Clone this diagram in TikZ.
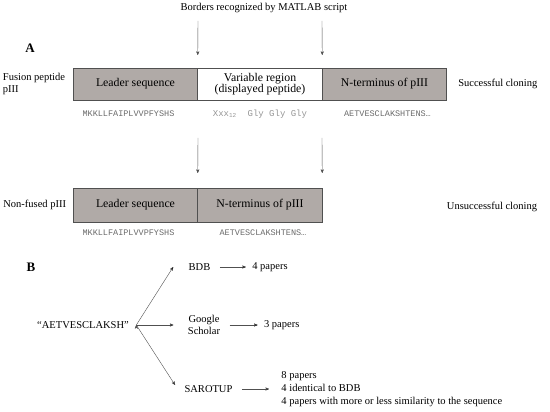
\documentclass[tikz,border=0pt]{standalone}
\usepackage{fontspec}
\setmainfont{Liberation Serif}
\setmonofont{Liberation Mono}
\usetikzlibrary{arrows,positioning}
\definecolor{partgray}{RGB}{176,170,167}
\definecolor{linegray}{RGB}{80,80,80}
\definecolor{seqgray}{RGB}{105,105,105}
\definecolor{xxxgray}{RGB}{150,150,150}

\begin{document}
\begin{tikzpicture}[x=1pt,y=-1pt,>=stealth',node distance=6pt,
                    font=\fontsize{10.5}{12.5}\selectfont,
                    part node/.style={draw=linegray,fill=partgray,line width=0.6pt,outer sep=0pt,
                      minimum width=124.5pt,minimum height=32pt,inner sep=0pt,align=center,
                      font=\fontsize{11.8}{11.5}\selectfont},
                    free node/.style={part node,fill=white},
                    seq node/.style={font=\ttfamily\fontsize{8.5}{10}\selectfont,text=seqgray},
                    side node/.style={align=left,inner sep=0pt},
                    panel node/.style={font=\fontsize{13}{15}\selectfont\bfseries},
                    link/.style={->,draw=linegray,thin},
                    short link/.style={shorten <=6pt,shorten >=3pt}]
\useasboundingbox (0,0) rectangle (550,412);

% A
\node[panel node] (A) at (30,48) {A};
\node (title) at (264,8) {Borders recognized by MATLAB script};

\node[part node] (lead1) at (135.5,84) {Leader sequence};
\node[free node] (var1) [right=0pt of lead1] {Variable region\\(displayed peptide)};
\node[part node] (term1) [right=0pt of var1] {N-terminus of pIII};
\node[side node] (fused) [left=8pt of lead1] {Fusion peptide\\pIII};
\node (ok) [right=8pt of term1] {Successful cloning};

\node[seq node] (seq1) [below=7pt of lead1,xshift=-7pt] {MKKLLFAIPLVVPFYSHS};
\node[seq node,text=xxxgray,font=\ttfamily\fontsize{9}{10}\selectfont] (seq2) [below=6pt of var1]
  {Xxx\textsubscript{12}\ \ Gly Gly Gly};
\node[seq node] (seq3) [below=7pt of term1,xshift=3pt] {AETVESCLAKSHTENS…};

\node[part node,minimum height=34pt] (lead2) at (135.5,205) {Leader sequence};
\node[part node,minimum height=34pt] (term2) [right=0pt of lead2] {N-terminus of pIII};
\node[side node] (nonfused) [left=7pt of lead2] {Non-fused pIII};
\node (notok) at (492,207) {Unsuccessful cloning};

\node[seq node] (seq4) [below=4pt of lead2,xshift=-7pt] {MKKLLFAIPLVVPFYSHS};
\node[seq node] (seq5) [below=4pt of term2,xshift=3pt] {AETVESCLAKSHTENS…};

\coordinate (cut1) at (198,21);
\coordinate (cut2) at (322,21);
\coordinate (cut3) at (198,138);
\coordinate (cut4) at (322,138);
\coordinate (end1) at ([yshift=13pt]lead1.north east);
\coordinate (end2) at ([yshift=13pt]var1.north east);
\coordinate (end3) at ([yshift=15pt]lead2.north east);
\coordinate (end4) at ([yshift=15pt]term2.north east);

\draw[link] (cut1) -- (end1);
\draw[link] (cut2) -- (end2);
\draw[link] (cut3) -- (end3);
\draw[link] (cut4) -- (end4);

% B
\node[panel node] (B) at (31,267) {B};
\node (src) at (83,325) {“AETVESCLAKSH”};
\coordinate[right=4pt of src] (fork);

\node (bdb) at (199.5,267) {BDB};
\node[align=center] (gs) at (204,325) {Google\\Scholar};
\node (sar) at (208.5,389) {SAROTUP};

\node (res1) [right=35pt of bdb] {4 papers};
\node (res2) [right=37pt of gs] {3 papers};
\node[align=left,font=\fontsize{10.5}{13}\selectfont] (res3) [right=42pt of sar]
  {8 papers\\4 identical to BDB\\4 papers with more or less similarity to the\ sequence};

\path[link]
  (fork) edge ([xshift=-12pt]bdb.west)
         edge ([xshift=-11pt]gs.west)
         edge ([xshift=-6pt,yshift=4pt]sar.west)
  (bdb) edge[short link] (res1)
  (gs) edge[short link] (res2)
  (sar) edge[shorten <=6pt,shorten >=9pt] (res3);

\end{tikzpicture}
\end{document}
